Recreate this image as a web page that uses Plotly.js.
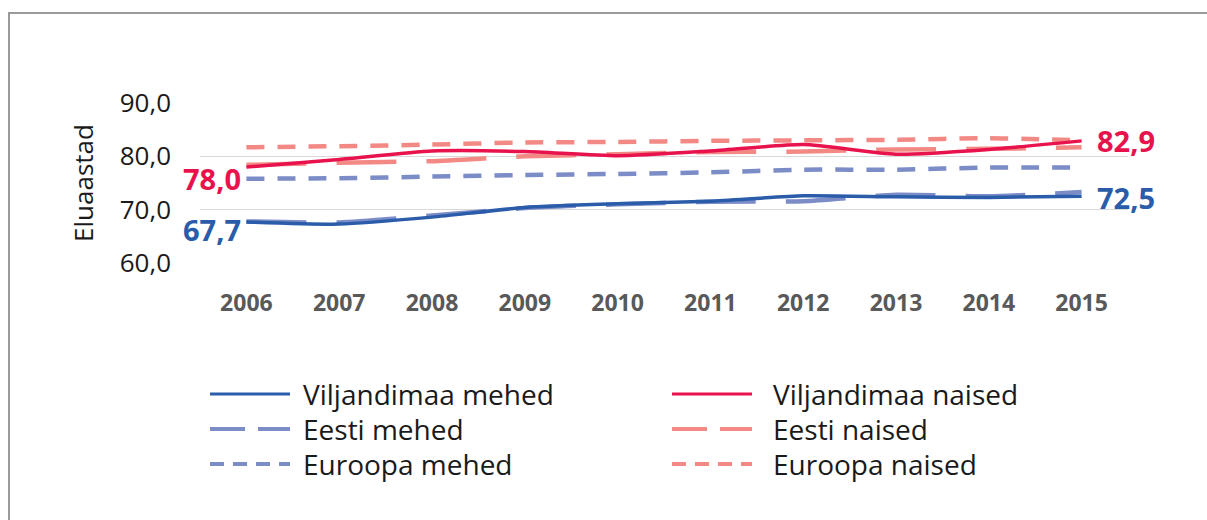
<!DOCTYPE html>
<html>
<head>
<meta charset="utf-8">
<script src="https://cdn.plot.ly/plotly-3.0.1.min.js"></script>
<style>
  html, body { margin: 0; padding: 0; background: #ffffff; }
  #wrap { position: relative; width: 1207px; height: 520px; overflow: hidden; }
  #chart { position: absolute; left: 0; top: 0; width: 1207px; height: 520px; }
  #frame { position: absolute; left: 8px; top: 12px; width: 1300px; height: 600px;
           border-left: 2px solid #9a9a9a; border-top: 2px solid #9a9a9a; pointer-events: none; }
</style>
</head>
<body>
<div id="wrap">
  <div id="chart"></div>
  <div id="frame"></div>
</div>
<script>
// ---- data ----
const years = ['2006','2007','2008','2009','2010','2011','2012','2013','2014','2015'];
const viljandimaaMehed = [67.7, 67.3, 68.6, 70.4, 71.1, 71.6, 72.6, 72.4, 72.3, 72.5];
const viljandimaaNaised = [78.0, 79.4, 81.0, 80.9, 80.1, 81.0, 82.2, 80.4, 81.3, 82.9];
const eestiMehed = [67.8, 67.6, 68.9, 70.3, 71.0, 71.5, 71.6, 72.8, 72.5, 73.3];
const eestiNaised = [78.4, 78.8, 79.1, 80.0, 80.4, 80.8, 80.9, 81.3, 81.4, 81.7];
const euroopaMehed = [75.8, 75.9, 76.2, 76.5, 76.7, 77.0, 77.5, 77.5, 77.9, 77.9];
const euroopaNaised = [81.7, 81.9, 82.2, 82.6, 82.7, 82.9, 83.0, 83.1, 83.4, 83.0];
const seriesNames = ['Viljandimaa mehed','Viljandimaa naised','Eesti mehed','Eesti naised','Euroopa mehed','Euroopa naised'];
const yTickVals = [60, 70, 80, 90];
const yTitle = 'Eluaastad';

// ---- styles ----
const BLUE = '#2a5caa', RED = '#e8124d', LBLUE = '#7b8cc7', LRED = '#f38985';
const styles = [
  {color: BLUE, width: 3.5, dash: 'solid', legDash: 'solid'},
  {color: RED, width: 3.5, dash: 'solid', legDash: 'solid'},
  {color: LBLUE, width: 4.5, dash: '60px,30px', legDash: '35px,13px'},
  {color: LRED, width: 4.5, dash: '60px,30px', legDash: '35px,13px'},
  {color: LBLUE, width: 4.5, dash: '18px,13px', legDash: '14px,9px'},
  {color: LRED, width: 4.5, dash: '18px,13px', legDash: '14px,9px'}
];
const seriesData = [viljandimaaMehed, viljandimaaNaised, eestiMehed, eestiNaised, euroopaMehed, euroopaNaised];
const order = [4, 5, 2, 3, 0, 1];
const traces = order.map(i => ({
  type: 'scatter', mode: 'lines', x: years, y: seriesData[i], name: seriesNames[i],
  line: {color: styles[i].color, width: styles[i].width, dash: styles[i].dash, shape: 'spline', smoothing: 0.6},
  showlegend: false, hoverinfo: 'skip'
}));

const fmt = v => v.toFixed(1).replace('.', ',');
const FONT = 'Open Sans, Noto Sans, DejaVu Sans, sans-serif';
const first = 0, last = years.length - 1;
const annotations = [
  {x: first, y: viljandimaaNaised[first], text: fmt(viljandimaaNaised[first]), xanchor: 'right', xshift: -3, yshift: -11, color: RED},
  {x: first, y: viljandimaaMehed[first], text: fmt(viljandimaaMehed[first]), xanchor: 'right', xshift: -3, yshift: -8, color: BLUE},
  {x: last, y: viljandimaaNaised[last], text: fmt(viljandimaaNaised[last]), xanchor: 'left', xshift: 13, yshift: 0, color: RED},
  {x: last, y: viljandimaaMehed[last], text: fmt(viljandimaaMehed[last]), xanchor: 'left', xshift: 13, yshift: -1, color: BLUE}
].map(a => ({x: a.x, y: a.y, xref: 'x', yref: 'y', text: '<b>' + a.text + '</b>', showarrow: false,
  xanchor: a.xanchor, yanchor: 'middle', xshift: a.xshift, yshift: a.yshift,
  font: {family: FONT, size: 29, color: a.color}}));

// custom legend (two columns, three rows) in paper coordinates
const shapes = [];
const legCols = [{x0: 0.0108, x1: 0.097, tx: 0.109}, {x0: 0.5086, x1: 0.5948, tx: 0.615}];
const legRows = [-0.819, -1.038, -1.256];
seriesNames.forEach((nm, i) => {
  const c = legCols[i % 2], r = legRows[Math.floor(i / 2)];
  shapes.push({type: 'line', xref: 'paper', yref: 'paper', x0: c.x0, x1: c.x1, y0: r, y1: r,
    line: {color: styles[i].color, width: i < 2 ? 3 : 4, dash: styles[i].legDash}});
  annotations.push({xref: 'paper', yref: 'paper', x: c.tx, y: r, text: nm, showarrow: false,
    xanchor: 'left', yanchor: 'middle', font: {family: FONT, size: 28, color: '#1a1a1a'}});
});

const layout = {
  width: 1207, height: 520,
  margin: {l: 200, r: 79, t: 103, b: 257},
  paper_bgcolor: 'rgba(0,0,0,0)', plot_bgcolor: 'rgba(0,0,0,0)',
  separators: ', ',
  showlegend: false,
  xaxis: {
    type: 'category', range: [-0.5, years.length - 0.5], autorange: false,
    showgrid: false, zeroline: false, showline: false,
    ticks: '', ticklabelstandoff: 24,
    tickfont: {family: FONT, size: 23, color: '#595959', weight: 'bold'}
  },
  yaxis: {
    range: [60, 90], autorange: false, tickvals: yTickVals, tickformat: '.1f',
    showgrid: true, gridcolor: '#d9d9d9', gridwidth: 1.5, zeroline: false, showline: false,
    ticks: '', ticklabelstandoff: 28,
    tickfont: {family: FONT, size: 26, color: '#1a1a1a'},
    title: {text: yTitle, standoff: 18, font: {family: FONT, size: 26, color: '#1a1a1a'}}
  },
  annotations: annotations,
  shapes: shapes
};

Plotly.newPlot('chart', traces, layout, {displayModeBar: false, staticPlot: true});
</script>
</body>
</html>
